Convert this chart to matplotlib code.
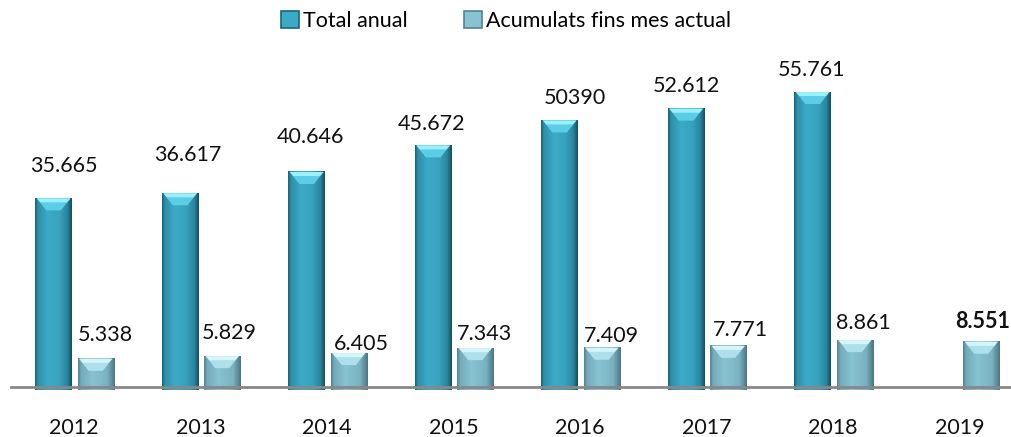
import matplotlib
matplotlib.use("Agg")
import matplotlib.pyplot as plt
import numpy as np
from matplotlib.colors import LinearSegmentedColormap
from matplotlib.patches import Polygon, Patch

plt.rcParams['font.family'] = ['Lato', 'DejaVu Sans']

# data
years = ['2012', '2013', '2014', '2015', '2016', '2017', '2018', '2019']
total_anual = [35665, 36617, 40646, 45672, 50390, 52612, 55761]
acumulats = [5338, 5829, 6405, 7343, 7409, 7771, 8861, 8551]
total_labels = ['35.665', '36.617', '40.646', '45.672', '50390', '52.612', '55.761']
acum_labels = ['5.338', '5.829', '6.405', '7.343', '7.409', '7.771', '8.861', '8.551']

# label placement tweaks (pixels), the labels were hand placed in the original
total_dy = [34, 40, 36, 23, 24, 24, 24]
total_dx = [10, 8, 4, -2, 15, 0, -1]
acum_dy = [25, 25, 11, 16, 13, 17, 19, 21]
acum_dx = [0, -2, 3, 0, 0, 3, -1, -8]

W, H, DPI = 1012, 437, 100
fig = plt.figure(figsize=(W / DPI, H / DPI), dpi=DPI)

base_px = 387          # baseline, px from top
px_per_unit = 0.00529  # bar height scale
slot_px = 126.5
left_px = 11

ymax = (base_px - 50) / px_per_unit
floor = -3 / px_per_unit
ax = fig.add_axes([left_px / W, (H - base_px) / H, (W - left_px) / W, (base_px - 50) / H])
ax.set_xlim(-0.5, -0.5 + (W - left_px) / slot_px)
ax.set_ylim(0, ymax)

xpx = 1 / slot_px        # one pixel in x data units
ypx = 1 / px_per_unit    # one pixel in y data units

cm_total = LinearSegmentedColormap.from_list('t', [
    (0, '#1c6477'), (0.08, '#2f90aa'), (0.35, '#3caac7'),
    (0.65, '#38a3bf'), (0.88, '#2a86a0'), (1, '#184f5e')])
cm_acum = LinearSegmentedColormap.from_list('a', [
    (0, '#55838f'), (0.08, '#74abbb'), (0.4, '#88c3d2'),
    (0.8, '#7ab1c0'), (1, '#4d7683')])
grad = np.linspace(0, 1, 64).reshape(1, -1)

x = np.arange(len(years))
w_total, w_acum = 0.29, 0.285
off_total, off_acum = -0.163, 0.17


def fancy_bars(xs, vals, width, cmap, top_col, bevel_col):
    bars = ax.bar(xs, np.array(vals) - floor, width, bottom=floor,
                  color='none', edgecolor='none', clip_on=False, zorder=2)
    for b in bars:
        x0, x1 = b.get_x(), b.get_x() + b.get_width()
        y0, y1 = b.get_y(), b.get_y() + b.get_height()
        ax.imshow(grad, extent=[x0, x1, y0, y1], aspect='auto', cmap=cmap,
                  zorder=2, clip_on=False)
        d = 11 * xpx
        bh = 12 * ypx
        ax.add_patch(Polygon([(x0 + 1.5 * xpx, y1), (x1 - 1.5 * xpx, y1),
                              (x1 - d, y1 - bh), (x0 + d, y1 - bh)],
                             closed=True, facecolor=bevel_col, edgecolor='none',
                             zorder=3, clip_on=False))
        ax.add_patch(Polygon([(x0 + 1.5 * xpx, y1), (x1 - 1.5 * xpx, y1),
                              (x1 - 5 * xpx, y1 - 4 * ypx), (x0 + 5 * xpx, y1 - 4 * ypx)],
                             closed=True, facecolor=top_col, edgecolor='none',
                             zorder=3, clip_on=False))
    return bars


bars_t = fancy_bars(x[:len(total_anual)] + off_total, total_anual, w_total,
                    cm_total, '#9af0fc', '#5ccde6')
bars_a = fancy_bars(x + off_acum, acumulats, w_acum,
                    cm_acum, '#d6f5fb', '#aee0ec')

ax.axhline(0, color='#888888', lw=2, zorder=4, clip_on=False)
ax.set_xlim(-0.5, -0.5 + (W - left_px) / slot_px)
ax.set_ylim(0, ymax)

fs = 15.5
for i, b in enumerate(bars_t):
    cx = b.get_x() + b.get_width() / 2
    ax.annotate(total_labels[i], (cx, total_anual[i]),
                xytext=(total_dx[i] * 0.72, (total_dy[i] - 7.5) * 0.72),
                textcoords='offset points', ha='center', va='baseline',
                fontsize=fs, color='#111111')
for i, b in enumerate(bars_a):
    ax.annotate(acum_labels[i], (b.get_x(), acumulats[i]),
                xytext=(acum_dx[i] * 0.72, (acum_dy[i] - 7.5) * 0.72),
                textcoords='offset points', ha='left', va='baseline',
                fontsize=fs, color='#111111',
                fontweight='bold' if i == len(acumulats) - 1 else 'normal')

ax.set_xticks(x)
ax.set_xticklabels(years, fontsize=fs, color='#111111')
ax.tick_params(axis='x', length=0, pad=22)
ax.set_yticks([])
for s in ax.spines.values():
    s.set_visible(False)

handles = [Patch(facecolor='#3caac7', edgecolor='#1c6477', lw=1.2),
           Patch(facecolor='#88c3d2', edgecolor='#55838f', lw=1.2)]
fig.legend(handles, ['Total anual', 'Acumulats fins mes actual'], loc='upper center',
           bbox_to_anchor=(0.5, 1.02), ncol=2, frameon=False, fontsize=fs,
           handlelength=0.85, handleheight=0.85, handletextpad=0.2,
           columnspacing=2.6)

fig.savefig('out.png', dpi=DPI)
